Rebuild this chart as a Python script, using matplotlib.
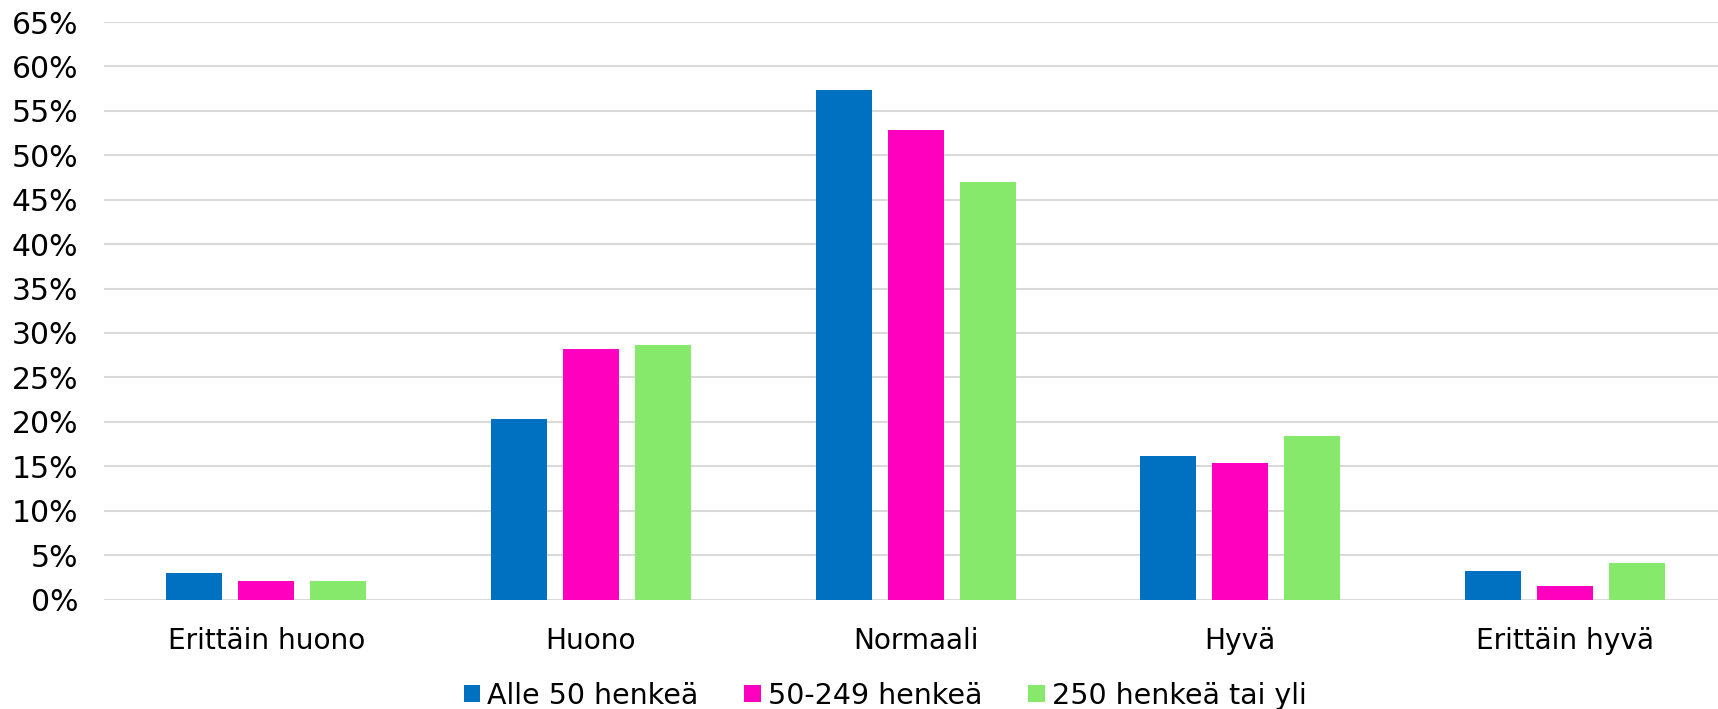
import matplotlib
matplotlib.use("Agg")
import matplotlib.pyplot as plt
import numpy as np

categories = ["Erittäin huono", "Huono", "Normaali", "Hyvä", "Erittäin hyvä"]
series_names = ["Alle 50 henkeä", "50-249 henkeä", "250 henkeä tai yli"]
alle50 = [3.0, 20.3, 57.3, 16.2, 3.2]
mid = [2.05, 28.2, 52.8, 15.4, 1.55]
over250 = [2.05, 28.6, 47.0, 18.4, 4.1]
yticks = list(range(0, 70, 5))
colors = ["#0070C0", "#FF00BF", "#87E96B"]

plt.rcParams['font.family'] = ['DejaVu Sans']
fig = plt.figure(figsize=(17.18, 7.09), dpi=100)
cat_w = 324.6
ax = fig.add_axes([104/1718, 1-599.5/709, 5*cat_w/1718, (599.5-22)/709])

x = np.arange(len(categories))
w = 56/cat_w
step = 72/cat_w
for i, (vals, name, c) in enumerate(zip([alle50, mid, over250], series_names, colors)):
    ax.bar(x + (i-1)*step, vals, width=w, color=c, label=name, zorder=3)

ax.set_xlim(-0.5, len(categories)-0.5)
ax.set_ylim(0, 65)
ax.set_yticks(yticks)
ax.set_yticklabels([f"{t}%" for t in yticks])
ax.set_xticks(x)
ax.set_xticklabels(categories)
ax.tick_params(axis='both', length=0, colors='black')
ax.tick_params(axis='y', pad=18.5, labelsize=21.5)
ax.tick_params(axis='x', pad=19.5, labelsize=20.2)
ax.grid(axis='y', color='#D9D9D9', linewidth=1.5, zorder=0)
for s in ax.spines.values():
    s.set_visible(False)

leg = fig.legend(loc='center', bbox_to_anchor=(885/1718, 1-695.5/709), ncol=3, frameon=False,
                 fontsize=20.5, handlelength=0.57, handleheight=0.57, handletextpad=0.25,
                 columnspacing=1.62, borderaxespad=0, borderpad=0)

fig.savefig("out.png", dpi=100, facecolor='white')
